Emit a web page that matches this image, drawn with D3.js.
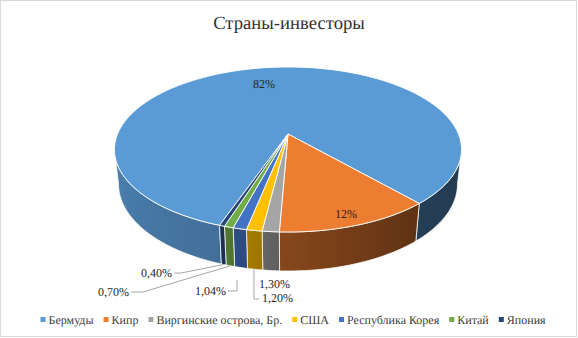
<!DOCTYPE html>
<html>
<head>
<meta charset="utf-8">
<title>Страны-инвесторы</title>
<script src="https://d3js.org/d3.v7.min.js"></script>
<style>
  body { margin: 0; padding: 0; background: #fff; }
  svg text { text-rendering: geometricPrecision; }
</style>
</head>
<body>
<div id="chart"></div>
<script>
// data
const categories = ["Бермуды", "Кипр", "Виргинские острова, Бр.", "США", "Республика Корея", "Китай", "Япония"];
const values = [82, 12, 1.30, 1.20, 1.04, 0.70, 0.40];
const valueLabels = ["82%", "12%", "1,30%", "1,20%", "1,04%", "0,70%", "0,40%"];
const colors = ["#5B9BD5", "#ED7D31", "#A5A5A5", "#FFC000", "#4472C4", "#70AD47", "#264478"];

const W = 578, H = 338;
const deg = Math.PI / 180;
const serif = "'Liberation Serif', 'Times New Roman', Times, serif";

// 3d camera (perspective) for the pie
const cam = { cx: 288, cy: 134, f: 802, L: 4.706, alpha: 27.84 * deg, depth: 0.231 };
const sinA = Math.sin(cam.alpha), cosA = Math.cos(cam.alpha);

function proj(theta, r, y) {
  const u = r * Math.sin(theta), w = -r * Math.cos(theta);
  const z = cam.L - y * sinA - w * cosA;
  const yv = y * cosA - w * sinA;
  return [cam.cx + cam.f * u / z, cam.cy - cam.f * yv / z];
}

const svg = d3.select("#chart").append("svg")
  .attr("width", W).attr("height", H)
  .attr("font-family", serif);
const defs = svg.append("defs");

svg.append("rect")
  .attr("x", 0.5).attr("y", 0.5)
  .attr("width", W - 2).attr("height", H - 2)
  .attr("fill", "#fff").attr("stroke", "#d9d9d9");

svg.append("text")
  .attr("x", 289).attr("y", 29)
  .attr("text-anchor", "middle")
  .attr("font-family", serif)
  .attr("font-size", 18.67)
  .attr("fill", "#333")
  .text("Страны-инвесторы");

const pie = d3.pie().sort(null)
  .startAngle(199.3 * deg).endAngle(199.3 * deg + 2 * Math.PI);
const arcs = pie(values);

// shading of the outer wall, by angle (degrees, 90..270 = front)
const shade = d3.scaleLinear()
  .domain([90, 140, 182, 200, 270])
  .range([0.37, 0.40, 0.57, 0.72, 0.86])
  .clamp(true);

function darker(c, k) {
  const col = d3.rgb(c);
  return d3.rgb(col.r * k, col.g * k, col.b * k).formatHex();
}

const visLo = 100.8 * deg, visHi = 259.2 * deg;
const wallG = svg.append("g");
let gid = 0;

arcs.forEach((a, i) => {
  // intersect slice with visible front range (in several turns)
  for (let n = -1; n <= 1; n++) {
    const lo = Math.max(a.startAngle, visLo + n * 2 * Math.PI);
    const hi = Math.min(a.endAngle, visHi + n * 2 * Math.PI);
    if (hi <= lo) continue;
    const steps = Math.max(2, Math.ceil((hi - lo) / deg));
    const ts = d3.range(steps + 1).map(k => lo + (hi - lo) * k / steps);
    const top = ts.map(t => proj(t, 1, 0));
    const bot = ts.map(t => proj(t, 1, -cam.depth)).reverse();
    const x0 = top[0][0], x1 = top[top.length - 1][0];
    const id = "wg" + (gid++);
    const grad = defs.append("linearGradient").attr("id", id)
      .attr("gradientUnits", "userSpaceOnUse")
      .attr("x1", x0).attr("y1", 0).attr("x2", x1).attr("y2", 0);
    ts.forEach((t, k) => {
      let dd = (t / deg) % 360; if (dd < 0) dd += 360;
      const off = Math.abs(x1 - x0) < 0.01 ? 0 : (top[k][0] - x0) / (x1 - x0);
      grad.append("stop").attr("offset", off)
        .attr("stop-color", darker(colors[i], shade(dd)));
    });
    wallG.append("path")
      .attr("d", "M" + top.concat(bot).map(p => p.join(",")).join("L") + "Z")
      .attr("fill", `url(#${id})`)
      .attr("stroke", "#fff").attr("stroke-width", 0.75)
      .attr("stroke-linejoin", "round");
  }
});

// top faces
const topG = svg.append("g");
arcs.forEach((a, i) => {
  const steps = Math.max(2, Math.ceil((a.endAngle - a.startAngle) / deg));
  const pts = d3.range(steps + 1).map(k =>
    proj(a.startAngle + (a.endAngle - a.startAngle) * k / steps, 1, 0));
  const c = proj(0, 0, 0);
  topG.append("path")
    .attr("d", "M" + [c].concat(pts).map(p => p.join(",")).join("L") + "Z")
    .attr("fill", colors[i])
    .attr("stroke", "#fff").attr("stroke-width", 0.9)
    .attr("stroke-linejoin", "round");
});

// value labels
const mid = a => (a.startAngle + a.endAngle) / 2;
const inside = { 0: 0.73, 1: 0.9 };
Object.keys(inside).forEach(k => {
  const p = proj(mid(arcs[k]), inside[k], 0);
  svg.append("text")
    .attr("x", p[0] - 3).attr("y", p[1] + 4)
    .attr("text-anchor", "middle")
    .attr("font-family", serif)
    .attr("font-size", 12)
    .attr("fill", "#262626")
    .text(valueLabels[k]);
});

// outside labels with leader lines (label position, anchor, elbow points)
const outside = [
  { i: 2, x: 259, y: 288, anchor: "start", line: null },
  { i: 3, x: 262, y: 302, anchor: "start", line: [[259, 299], [254, 299]] },
  { i: 4, x: 226, y: 295, anchor: "end", line: [[228, 291], [237, 291], [237, 280]] },
  { i: 5, x: 129, y: 296, anchor: "end", line: [[131, 292], [143, 292]] },
  { i: 6, x: 172, y: 277, anchor: "end", line: [[174, 273], [181, 273]] }
];
outside.forEach(o => {
  svg.append("text")
    .attr("x", o.x).attr("y", o.y)
    .attr("text-anchor", o.anchor)
    .attr("font-family", serif)
    .attr("font-size", 12)
    .attr("fill", "#262626")
    .text(valueLabels[o.i]);
  if (!o.line) return;
  let pts = o.line.slice();
  if (o.i !== 4) {
    const b = proj(mid(arcs[o.i]), 1, -cam.depth);
    if (o.i === 3) b[0] = pts[pts.length - 1][0];
    pts.push(b);
  }
  svg.append("path")
    .attr("d", d3.line()(pts))
    .attr("fill", "none")
    .attr("stroke", "#a6a6a6").attr("stroke-width", 1);
});

// legend
const legend = svg.append("g");
let lx = 0;
categories.forEach((c, i) => {
  const g = legend.append("g");
  g.append("rect").attr("x", lx).attr("y", -3).attr("width", 5).attr("height", 5)
    .attr("fill", colors[i]);
  const t = g.append("text").attr("x", lx + 8).attr("y", 4)
    .attr("font-family", serif)
    .attr("font-size", 12)
    .attr("fill", "#404040")
    .text(c);
  lx += 8 + t.node().getComputedTextLength() + 10;
});
lx -= 10;
legend.attr("transform", `translate(${(293 - lx / 2).toFixed(1)},320)`);
</script>
</body>
</html>
